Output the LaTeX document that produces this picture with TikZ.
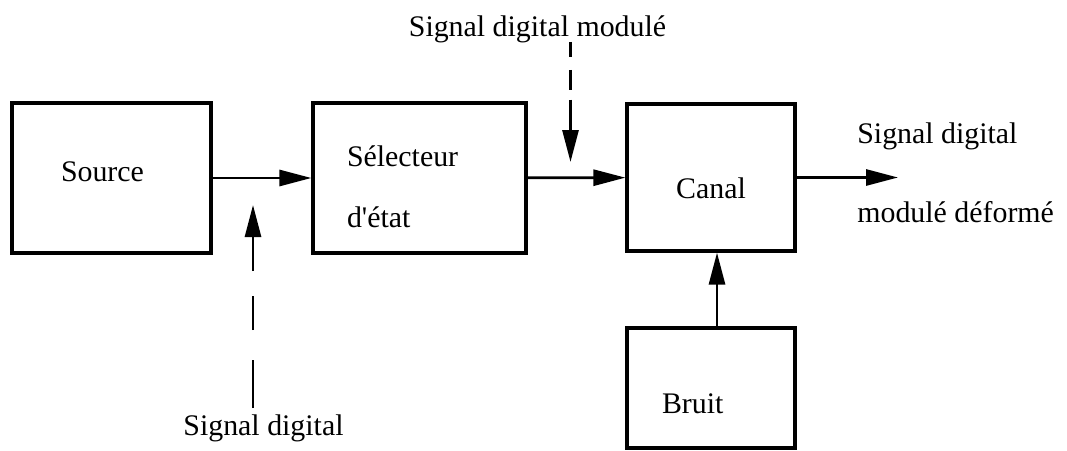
\documentclass[tikz,border=0pt]{standalone}
\usepackage{fontspec}
\setmainfont{Liberation Serif}
\usetikzlibrary{arrows.meta}
\begin{document}
\begin{tikzpicture}[
    block/.style={draw, line width=1.8pt, minimum height=3cm},
    arr/.style={-{Triangle[length=0.64cm,width=0.32cm]}, line width=1.6pt},
    dashline/.style={line width=1.6pt},
    font=\fontsize{17}{20.4}\selectfont
]
\useasboundingbox (0,0) rectangle (21.34,9);
% blocks
\node[block, minimum width=3.98cm, text width=2.02cm, inner xsep=0.98cm, align=left, text depth=0.25cm] (source) at (2.23,5.44) {Source};
\node[block, minimum width=4.26cm, text width=2.9cm, inner xsep=0.68cm, align=left] (selecteur) at (8.39,5.44) {\rule{0pt}{0.77cm}Sélecteur\\[14pt]d\textquotesingle état};
\node[block, minimum width=3.36cm, minimum height=2.94cm, text height=0.82cm, text depth=0cm] (canal) at (14.22,5.45) {Canal};
\node[block, minimum width=3.36cm, minimum height=2.4cm, text width=1.96cm, inner xsep=0.7cm, align=left, text height=1cm, text depth=0cm] (bruit) at (14.22,1.24) {Bruit};
% labels
\node[anchor=base] (lblmod) at (10.75,8.26) {Signal digital modulé};
\node[anchor=base] (lbldig) at (5.27,0.30) {Signal digital};
\node[anchor=west, align=left, inner sep=0pt] (lblout) at (17.14,5.54) {Signal digital\\[24.4pt]modulé déformé};
\coordinate (out) at (17.96,5.45);
\coordinate (tipA) at (5.06,4.9);
\coordinate (kinkA) at (5.06,3.64);
\coordinate (tipB) at (11.41,5.76);
\coordinate (kinkB) at (11.41,7.0);
% connectors
\draw[arr] (source) -- (selecteur);
\draw[arr] (selecteur) -- (canal);
\draw[arr] (canal) -- (out);
\draw[arr] ([xshift=0.12cm]bruit.north) -- ([xshift=0.12cm]canal.south);
\draw[dashline, dash pattern=on 0.96cm off 0.6cm on 0.68cm off 0.5cm] (lbldig.north -| kinkA) -- (kinkA);
\draw[arr] (kinkA) -- (tipA);
\draw[dashline, shorten <=0.1cm, dash pattern=on 0.3cm off 0.26cm on 0.4cm off 0.2cm] (lblmod.base -| kinkB) -- (kinkB);
\draw[arr] (kinkB) -- (tipB);
\end{tikzpicture}
\end{document}
